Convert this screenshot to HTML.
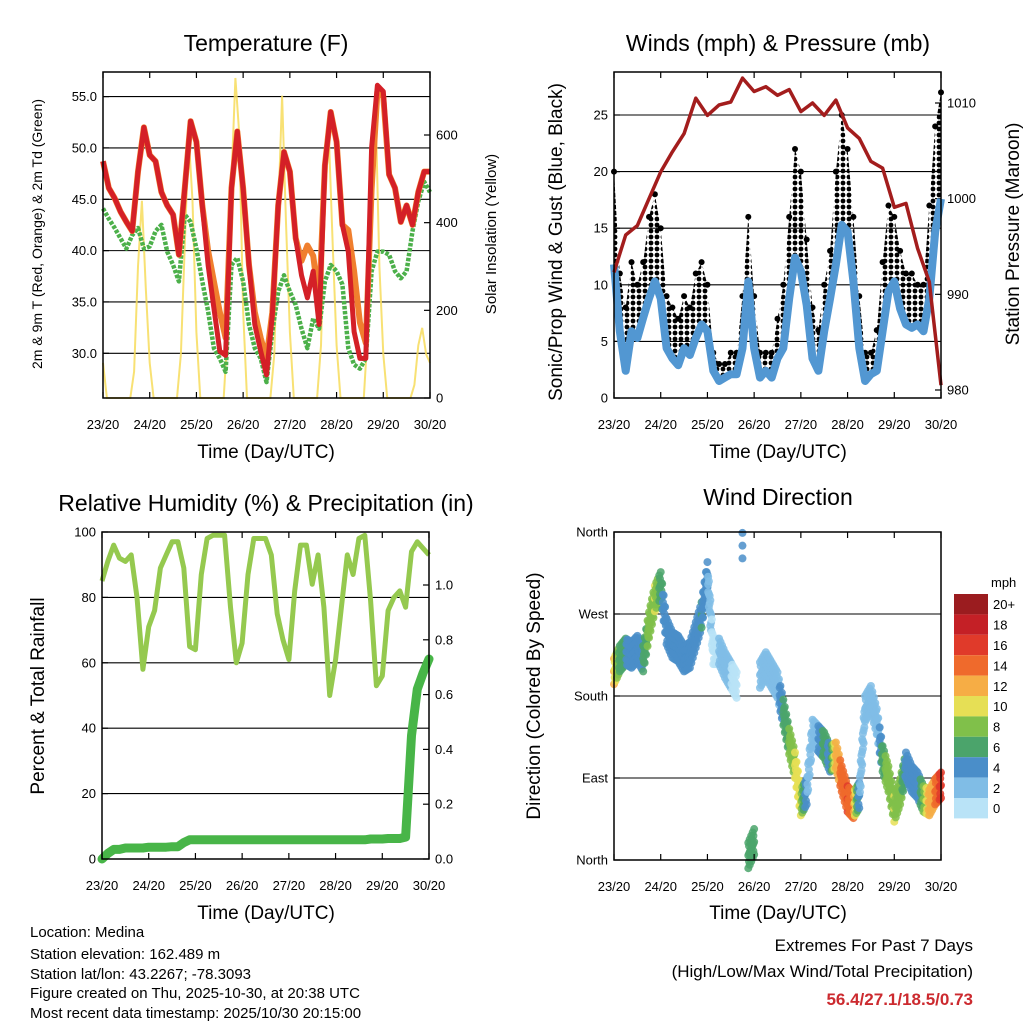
<!DOCTYPE html>
<html><head><meta charset="utf-8"><style>
html,body{margin:0;padding:0;background:#fff;}
svg{display:block;font-family:"Liberation Sans",Arial,sans-serif;}
</style></head><body>
<svg id="chart" width="1024" height="1024" viewBox="0 0 1024 1024" xmlns="http://www.w3.org/2000/svg">
<defs>
<pattern id="dots" width="6" height="6" patternUnits="userSpaceOnUse"><circle cx="3" cy="3" r="2.4" fill="#000"/></pattern>
</defs>
<rect x="0" y="0" width="1024" height="1024" fill="#fff"/>
<g id="g1"></g>
<g id="g2"></g>
<g id="g3"></g>
<g id="g4"></g>
<text x="266" y="51" font-size="23" text-anchor="middle">Temperature (F)</text>
<text x="778" y="51" font-size="23" text-anchor="middle">Winds (mph) &amp; Pressure (mb)</text>
<text x="266" y="511" font-size="23" text-anchor="middle">Relative Humidity (%) &amp; Precipitation (in)</text>
<text x="778" y="505" font-size="23" text-anchor="middle">Wind Direction</text>
<text x="266" y="458" font-size="19" text-anchor="middle">Time (Day/UTC)</text>
<text x="778" y="458" font-size="19" text-anchor="middle">Time (Day/UTC)</text>
<text x="266" y="919" font-size="19" text-anchor="middle">Time (Day/UTC)</text>
<text x="778" y="919" font-size="19" text-anchor="middle">Time (Day/UTC)</text>
<text transform="translate(42,234) rotate(-90)" font-size="14" text-anchor="middle">2m &amp; 9m T (Red, Orange) &amp; 2m Td (Green)</text>
<text transform="translate(496,234) rotate(-90)" font-size="15" text-anchor="middle">Solar Insolation (Yellow)</text>
<text transform="translate(562,242) rotate(-90)" font-size="19" text-anchor="middle">Sonic/Prop Wind &amp; Gust (Blue, Black)</text>
<text transform="translate(1019,234) rotate(-90)" font-size="19" text-anchor="middle">Station Pressure (Maroon)</text>
<text transform="translate(44,696) rotate(-90)" font-size="19" text-anchor="middle">Percent &amp; Total Rainfall</text>
<text transform="translate(540,696) rotate(-90)" font-size="19" text-anchor="middle">Direction (Colored By Speed)</text>
<g font-size="15">
<text x="30" y="937">Location: Medina</text>
<text x="30" y="959">Station elevation: 162.489 m</text>
<text x="30" y="979">Station lat/lon: 43.2267; -78.3093</text>
<text x="30" y="998">Figure created on Thu, 2025-10-30, at 20:38 UTC</text>
<text x="30" y="1018">Most recent data timestamp: 2025/10/30 20:15:00</text>
</g>
<g font-size="17" text-anchor="end">
<text x="973" y="951">Extremes For Past 7 Days</text>
<text x="973" y="977">(High/Low/Max Wind/Total Precipitation)</text>
<text x="973" y="1005" fill="#cc2a2f" font-weight="bold">56.4/27.1/18.5/0.73</text>
</g>
</svg>
<script>
// ---- data (3-hourly samples starting 23/20 UTC) ----
const xTickLabels=["23/20","24/20","25/20","26/20","27/20","28/20","29/20","30/20"];
const tempRed=[48.7,46.1,45.1,43.8,42.8,41.9,47.7,52.0,49.3,48.7,45.7,44.4,43.5,39.6,46.1,52.6,50.6,44.4,38.6,34.4,30.2,29.8,46.1,51.6,46.1,38.6,32.8,30.2,27.9,33.7,44.4,49.6,47.7,41.2,37.6,35.4,38.0,32.8,48.3,53.5,50.6,42.5,39.9,32.1,29.5,29.5,50.0,56.1,55.5,47.4,46.1,42.8,44.4,42.5,45.7,47.7,47.7];
const tempOrange=[48.7,46.1,45.1,43.8,42.8,41.9,47.7,52.0,49.3,48.7,45.7,44.4,43.5,39.6,46.1,52.6,50.6,44.4,40.0,37.0,34.0,31.5,46.1,51.6,46.1,38.6,34.0,31.5,29.5,34.0,44.4,49.6,47.7,41.2,39.0,40.5,39.5,35.0,48.3,53.5,50.6,42.5,42.0,38.0,33.0,31.0,46.0,55.5,55.0,47.4,46.1,42.8,44.4,42.5,45.7,47.7,47.7];
const dewGreen=[44.1,43.1,42.2,41.2,40.2,41.5,42.2,40.2,40.4,41.9,42.5,39.9,38.6,37.0,43.5,42.8,40.2,37.0,34.1,30.5,29.5,28.2,38.6,39.3,37.0,32.8,30.5,29.5,27.2,32.1,36.0,37.6,36.0,34.7,32.4,30.5,33.4,32.4,37.0,38.6,38.0,36.7,30.5,28.9,28.5,29.5,38.0,39.9,39.9,39.6,38.0,37.3,38.0,41.9,44.8,46.7,45.7];
// solar: 2-hourly
const solar=[80,0,0,0,0,0,0,0,60,300,450,250, 80,0,0,0,0,0,0,0,100,350,600,450, 150,0,0,0,0,0,0,0,150,500,730,600, 200,0,0,0,0,0,0,0,100,420,690,400, 150,0,0,0,0,0,0,0,120,450,600,350, 120,0,0,0,0,0,0,0,150,500,670,300, 100,0,0,0,0,0,0,0,30,120,160,100,80];
const windSpeed=[11.8,5.9,2.4,5.9,5.3,7.1,8.8,10.3,8.8,4.4,3.5,2.9,4.4,3.8,5.3,6.5,5.9,2.4,1.5,1.8,2.1,2.1,4.4,10.3,4.4,1.8,2.4,1.8,3.5,4.4,8.8,12.4,11.2,8.2,3.5,2.4,5.9,8.8,11.8,15.3,14.7,10.3,4.4,1.5,2.1,2.4,5.9,9.4,10.3,7.9,6.5,6.2,6.5,5.9,8.8,14.7,17.6];
const windGust=[20,11,8,12,10,12,16,18,15,9,8,7,9,8,11,12,10,4,3,3,4,4,9,16,9,4,4,4,7,10,16,22,20,14,8,6,10,13,20,25,22,16,9,4,4,6,12,17,16,13,11,11,10,10,17,24,27];
// pressure: 6-hourly
const pressure=[992.3,996.2,997.2,1000,1002.8,1004.9,1006.8,1010.5,1008.7,1009.8,1010.1,1012.6,1011.2,1011.7,1010.8,1011.4,1009.1,1010,1008.7,1010.3,1007.4,1006.3,1003.9,1003.2,999.1,999.5,994.8,991.3,980.5];
const relHum=[85,91,96,92,91,93,80,58,71,76,89,93,97,97,89,65,64,87,98,99,99,99,77,60,66,87,98,98,98,93,75,67,61,82,96,96,84,93,77,50,61,77,93,87,98,99,79,53,56,76,80,82,77,94,97,95,93];
const precip=[0,0.02,0.035,0.035,0.04,0.04,0.04,0.04,0.043,0.043,0.043,0.043,0.045,0.045,0.06,0.07,0.07,0.07,0.07,0.07,0.07,0.07,0.07,0.07,0.07,0.07,0.07,0.07,0.07,0.07,0.07,0.07,0.07,0.07,0.07,0.07,0.07,0.07,0.07,0.07,0.07,0.07,0.07,0.07,0.07,0.07,0.073,0.073,0.073,0.075,0.075,0.075,0.08,0.45,0.62,0.68,0.73];
const windDir=[207,221,229,225,232,221,258,287,302,251,236,232,221,225,247,269,313,229,229,214,203,192,345,5,20,203,214,203,192,162,130,104,63,75,140,133,126,111,115,89,67,60,71,166,177,152,111,89,56,75,104,89,82,67,63,75,82];
const dirSpeed=[12,7,6,5,5,6,9,10,7,4,4,4,4,4,5,6,4,1,2,2,2,1,4,6,7,2,2,2,3,6,8,10,10,4,2,4,7,5,12,15,16,14,4,2,2,2,7,9,10,9,5,4,4,8,13,14,17];
const tempTicks=[30,35,40,45,50,55];
const solarTicks=[0,200,400,600];
const windTicks=[0,5,10,15,20,25];
const presTicks=[980,990,1000,1010];
const rhTicks=[0,20,40,60,80,100];
const rainTicks=[0,0.2,0.4,0.6,0.8,1.0];
const dirTickVals=[0,90,180,270,360];
const dirTickLabels=["North","East","South","West","North"];
const cbLabels=["20+","18","16","14","12","10","8","6","4","2","0"];
const cbColors=["#9b1c1f","#c42026","#e03a2a","#ef6a2c","#f6ad45","#e6df55","#80c04a","#4ba46b","#4a8ec9","#80bde6","#b9e3f7"];

const NS="http://www.w3.org/2000/svg";
function mk(parent,tag,attrs){const e=document.createElementNS(NS,tag);for(const k in attrs)e.setAttribute(k,attrs[k]);parent.appendChild(e);return e;}
function scale(d0,d1,r0,r1){return v=>r0+(v-d0)/(d1-d0)*(r1-r0);}

function frame(g,L,R,T,B,name){
  const r=mk(g,'rect',{x:L,y:T,width:R-L,height:B-T,fill:'none',stroke:'#000','stroke-width':1.5});
  
  
}
function xAxis(g,xs,T,B){
  xTickLabels.forEach((lab,i)=>{
    const x=xs(i);
    mk(g,'line',{x1:x,x2:x,y1:B,y2:B-6,stroke:'#000','stroke-width':1.2});
    mk(g,'line',{x1:x,x2:x,y1:T,y2:T+6,stroke:'#000','stroke-width':1.2});
    const t=mk(g,'text',{x:x,y:B+31,'font-size':13,'text-anchor':'middle'});
    t.textContent=lab;
    
    
  });
}
function yAxis(g,vals,labels,ys,xEdge,side,grid,L,R){
  vals.forEach((v,i)=>{
    const y=ys(v);
    if(grid){const gl=mk(g,'line',{x1:L,x2:R,y1:y,y2:y,stroke:'#000','stroke-width':1.1});
      
      }
    const dir=side==='left'?1:-1;
    mk(g,'line',{x1:xEdge,x2:xEdge+6*dir,y1:y,y2:y,stroke:'#000','stroke-width':1.2});
    const t=mk(g,'text',{x:side==='left'?xEdge-6:xEdge+6,y:y+4.5,'font-size':13,'text-anchor':side==='left'?'end':'start'});
    t.textContent=labels[i];
    
    
  });
}
function path(arr,dt,xs,ys){let d='';arr.forEach((v,i)=>{d+=(i?'L':'M')+xs(i*dt).toFixed(1)+','+ys(v).toFixed(1);});return d;}

// ===== Panel 1 =====
(function(){
const g=document.getElementById('g1');
const L=103,R=430,T=72,B=398;
const xs=scale(0,7,L,R);
const ys=scale(30,55,353.3,96.6);
const ss=scale(0,600,B,135);
yAxis(g,tempTicks,tempTicks.map(v=>v.toFixed(1)),ys,L,'left',true,L,R);
yAxis(g,solarTicks,solarTicks.map(String),ss,R,'right',false,L,R);
const sp=mk(g,'path',{d:path(solar,1/12,xs,ss),fill:'none',stroke:'#f7dc5c','stroke-width':2,'stroke-opacity':0.85});


const gp=mk(g,'path',{d:path(dewGreen,0.125,xs,ys),fill:'none',stroke:'#4cb04a','stroke-width':4.5,'stroke-dasharray':'3.5 1.5','stroke-linejoin':'round'});


const op=mk(g,'path',{d:path(tempOrange,0.125,xs,ys),fill:'none',stroke:'#f07f2e','stroke-width':6,'stroke-linejoin':'round'});


const rp=mk(g,'path',{d:path(tempRed,0.125,xs,ys),fill:'none',stroke:'#d42027','stroke-width':5,'stroke-linejoin':'round'});


xAxis(g,xs,T,B);
frame(g,L,R,T,B,'temperature-plot-frame');
})();

// ===== Panel 2 =====
(function(){
const g=document.getElementById('g2');
const L=614,R=941,T=72,B=398;
const xs=scale(0,7,L,R);
const ys=scale(0,25,B,115);
const ps=scale(980,1010,390,103);
yAxis(g,windTicks,windTicks.map(String),ys,L,'left',true,L,R);
yAxis(g,presTicks,presTicks.map(String),ps,R,'right',false,L,R);
let d='';
windGust.forEach((v,i)=>{d+=(i?'L':'M')+xs(i*0.125).toFixed(1)+','+ys(v).toFixed(1);});
for(let i=windSpeed.length-1;i>=0;i--){d+='L'+xs(i*0.125).toFixed(1)+','+ys(windSpeed[i]).toFixed(1);}
const band=mk(g,'path',{d:d+'Z',fill:'url(#dots)'});


windGust.forEach((v,i)=>{
  const c=mk(g,'circle',{cx:xs(i*0.125),cy:ys(v),r:3,fill:'#000'});
  
  
});
const wl=mk(g,'path',{d:path(windSpeed,0.125,xs,ys),fill:'none',stroke:'#5297d2','stroke-width':8,'stroke-linejoin':'round'});


const pl=mk(g,'path',{d:path(pressure,0.25,xs,ps),fill:'none',stroke:'#a31d1d','stroke-width':3.5,'stroke-linejoin':'round'});


xAxis(g,xs,T,B);
frame(g,L,R,T,B,'winds-plot-frame');
})();

// ===== Panel 3 =====
(function(){
const g=document.getElementById('g3');
const L=102,R=429,T=532,B=859;
const xs=scale(0,7,L,R);
const ys=scale(0,100,B,T);
const ps=scale(0,1,B,B-274);
yAxis(g,rhTicks,rhTicks.map(String),ys,L,'left',true,L,R);
yAxis(g,rainTicks,rainTicks.map(v=>v.toFixed(1)),ps,R,'right',false,L,R);
const rl=mk(g,'path',{d:path(relHum,0.125,xs,ys),fill:'none',stroke:'#95c94f','stroke-width':5,'stroke-linejoin':'round'});


const pl=mk(g,'path',{d:path(precip,0.125,xs,ps),fill:'none',stroke:'#48b548','stroke-width':9,'stroke-linejoin':'round','stroke-linecap':'round'});


xAxis(g,xs,T,B);
frame(g,L,R,T,B,'humidity-plot-frame');
})();

// ===== Panel 4 =====
(function(){
const g=document.getElementById('g4');
const L=614,R=941,T=532,B=860;
const xs=scale(0,7,L,R);
const ys=scale(0,360,B,T);
yAxis(g,dirTickVals,dirTickLabels,ys,L,'left',true,L,R);
const col=s=>cbColors[10-Math.min(10,Math.floor(s/2))];
const offs=[-14,0,14];
for(let i=0;i<windDir.length;i++){
  offs.forEach(o=>{
    const c=mk(g,'circle',{cx:xs(i*0.125),cy:ys(windDir[i]+o),r:4,fill:col(dirSpeed[i]),'fill-opacity':0.85});
    
    
  });
  if(i<windDir.length-1 && Math.abs(windDir[i+1]-windDir[i])<100){
    for(let k=1;k<8;k++){
      const f=k/8;
      const dd=windDir[i]+(windDir[i+1]-windDir[i])*f;
      const sp=dirSpeed[i]+(dirSpeed[i+1]-dirSpeed[i])*f;
      offs.forEach(o=>{
        const c2=mk(g,'circle',{cx:xs((i+f)*0.125),cy:ys(dd+o*((k%2)?0.6:1)),r:4,fill:col(sp),'fill-opacity':0.85});
        
        
      });
    }
  }
}
xAxis(g,xs,T,B);
frame(g,L,R,T,B,'direction-plot-frame');
// colorbar
const cbT=594,bh=20.4;
cbLabels.forEach((lab,i)=>{
  const r=mk(g,'rect',{x:954,y:cbT+i*bh,width:34,height:bh,fill:cbColors[i]});
  
  
  const t=mk(g,'text',{x:993,y:cbT+i*bh+bh/2+5,'font-size':13});
  t.textContent=lab;
  
  
});
const u=mk(g,'text',{x:991,y:587,'font-size':13});
u.textContent='mph';


})();
</script>
</body></html>
